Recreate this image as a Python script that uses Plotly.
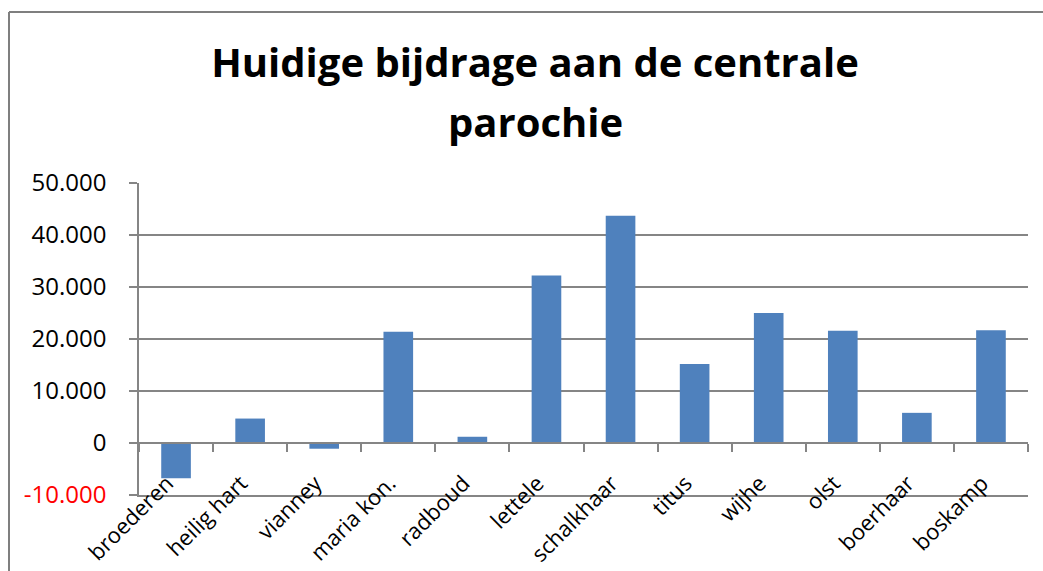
import plotly.graph_objects as go

# data
parochies = ["broederen", "heilig hart", "vianney", "maria kon.", "radboud", "lettele",
             "schalkhaar", "titus", "wijhe", "olst", "boerhaar", "boskamp"]
bijdrage = [-6800, 4700, -1100, 21400, 1200, 32200, 43700, 15200, 25000, 21600, 5800, 21700]

y_ticks = [-10000, 0, 10000, 20000, 30000, 40000, 50000]
y_labels = ['<span style="color:#FF0000">-10.000</span>', "0", "10.000", "20.000",
            "30.000", "40.000", "50.000"]

title_lines = ["Huidige bijdrage aan de centrale", "parochie"]

W, H = 1043, 571
ML, MR, MT, MB = 139, 15, 183, 76
GRAY = "#858585"
FONT = "Open Sans, Liberation Sans, sans-serif"


def px_x(p):
    return (p - ML) / (W - ML - MR)


def px_y(p):
    return (H - MB - p) / (H - MT - MB)


fig = go.Figure()
fig.add_trace(go.Bar(x=parochies, y=bijdrage, marker=dict(color="#4F81BD", line=dict(width=0)),
                     width=0.4, showlegend=False))
# invisible copy on a second category axis that draws the zero line with its ticks
fig.add_trace(go.Scatter(x=parochies, y=bijdrage, xaxis="x2", mode="markers",
                         marker=dict(opacity=0), hoverinfo="skip", showlegend=False))

fig.update_layout(
    width=W, height=H,
    margin=dict(l=ML, r=MR, t=MT, b=MB, autoexpand=False),
    paper_bgcolor="white", plot_bgcolor="white",
    font=dict(family=FONT, color="black", size=24),
    title=dict(text="<b>%s</b>" % title_lines[0],
               x=px_x(535), xref="paper", xanchor="center",
               y=1 - 63 / H, yanchor="middle",
               font=dict(size=40, family=FONT)),
    xaxis=dict(type="category", range=[-0.5, 11.5], showgrid=False,
               showline=True, linecolor=GRAY, linewidth=1.5, layer="above traces",
               ticks="", tickangle=-45, ticklabelstandoff=-35, ticklabelshift=-9,
               tickfont=dict(size=22)),
    xaxis2=dict(type="category", overlaying="x", anchor="free", position=1 / 6,
                range=[-0.5, 11.5], showgrid=False, showticklabels=False,
                showline=True, linecolor=GRAY, linewidth=1.5,
                ticks="outside", tickson="boundaries", ticklen=8,
                tickcolor=GRAY, tickwidth=1.5),
    yaxis=dict(range=[-10000, 50000], tickvals=y_ticks, ticktext=y_labels,
               showgrid=True, gridcolor=GRAY, gridwidth=1.5,
               zeroline=True, zerolinecolor=GRAY, zerolinewidth=1.5,
               showline=True, linecolor=GRAY, linewidth=1.5,
               ticks="outside", ticklen=8, tickcolor=GRAY, tickwidth=1.5,
               ticklabelstandoff=18, tickfont=dict(size=24)),
)

# second title line
fig.add_annotation(text="<b>%s</b>" % title_lines[1], xref="paper", yref="paper",
                   x=px_x(535), y=px_y(121), xanchor="center", yanchor="middle",
                   showarrow=False, font=dict(size=40, family=FONT, color="black"))

# outer chart border (left and top edges visible)
fig.add_shape(type="line", xref="paper", yref="paper",
              x0=px_x(9), x1=px_x(9), y0=px_y(12), y1=px_y(H + 5),
              line=dict(color="#7F7F7F", width=2))
fig.add_shape(type="line", xref="paper", yref="paper",
              x0=px_x(9), x1=px_x(W + 5), y0=px_y(12), y1=px_y(12),
              line=dict(color="#7F7F7F", width=2))

fig.write_html("out.html", config={"displayModeBar": False},
               post_script="document.body.style.margin='0';")
